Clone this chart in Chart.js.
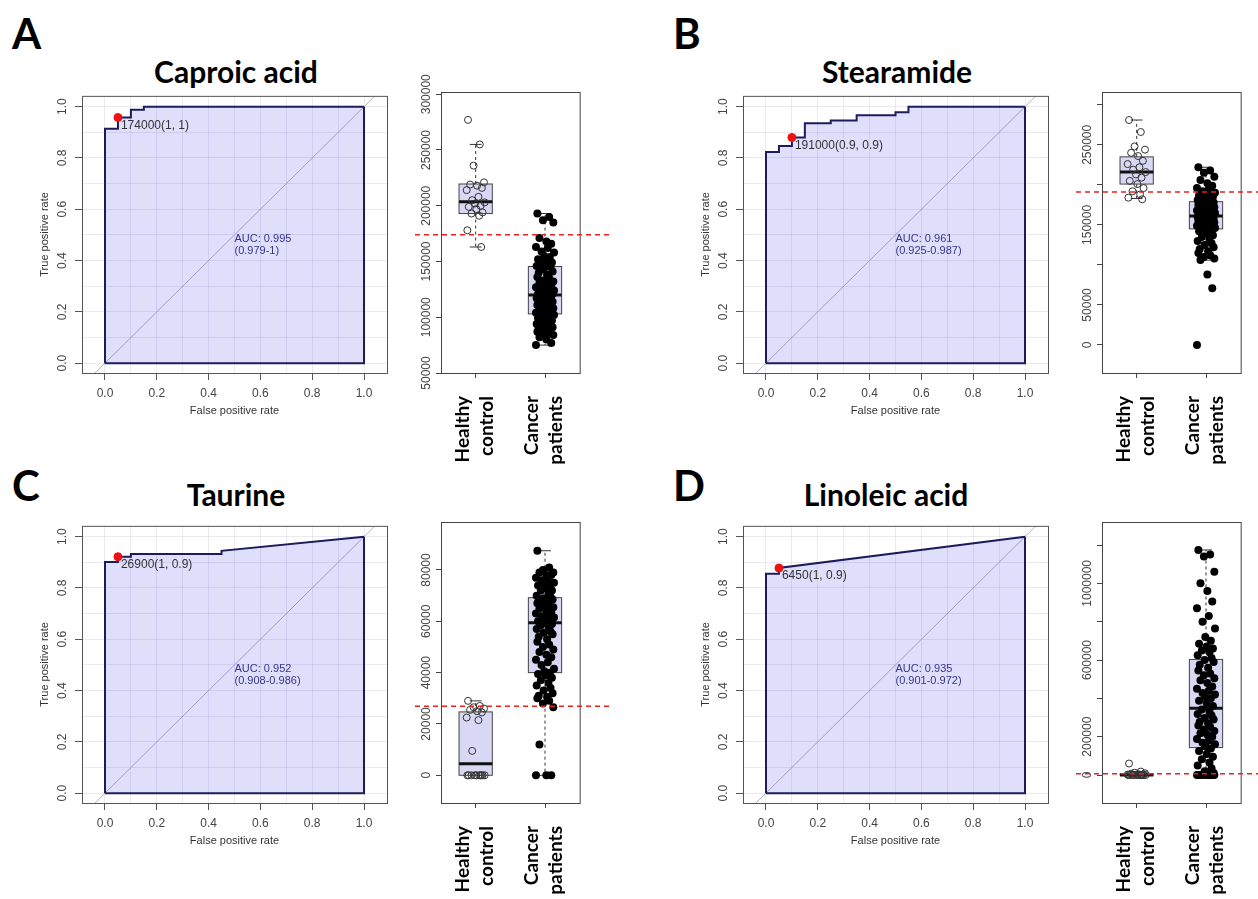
<!DOCTYPE html>
<html lang="en">
  <head>
    <meta charset="UTF-8" />
    <title>ROC curves and box plots</title>
    <script src="https://cdn.jsdelivr.net/npm/chart.js"></script>
    <style>
      body {
        margin: 0;
        width: 1258px;
        height: 899px;
        overflow: hidden;
        position: relative;
        background: #fff;
        font-family: Lato, sans-serif;
      }
      canvas {
        position: absolute;
      }
      .letter {
        position: absolute;
        font-weight: bold;
        font-size: 42px;
        line-height: 42px;
        color: #000;
      }
      .title {
        position: absolute;
        font-weight: bold;
        font-size: 30px;
        line-height: 30px;
        white-space: nowrap;
        transform: translateX(-50%);
        color: #000;
      }
    </style>
  </head>
  <body>
    <script>
      // ROC curves (false positive rate / true positive rate)
      const caproicFpr = [0, 0, 0.05, 0.05, 0.1, 0.1, 0.15, 0.15, 1];
      const caproicTpr = [0, 0.914, 0.914, 0.958, 0.958, 0.988, 0.988, 1, 1];
      const stearFpr = [0, 0, 0.05, 0.05, 0.1, 0.1, 0.15, 0.15, 0.25, 0.25, 0.35, 0.35, 0.5, 0.5, 0.55, 0.55, 1];
      const stearTpr = [0, 0.823, 0.823, 0.847, 0.847, 0.88, 0.88, 0.935, 0.935, 0.946, 0.946, 0.967, 0.967, 0.978, 0.978, 1, 1];
      const taurFpr = [0, 0, 0.05, 0.05, 0.1, 0.1, 0.45, 0.45, 1];
      const taurTpr = [0, 0.901, 0.901, 0.922, 0.922, 0.933, 0.933, 0.945, 1];
      const linFpr = [0, 0, 0.05, 0.05, 1];
      const linTpr = [0, 0.856, 0.856, 0.878, 1];

      // best cut-off points
      const caproicBest = [0.05, 0.958];
      const stearBest = [0.1, 0.88];
      const taurBest = [0.05, 0.922];
      const linBest = [0.05, 0.878];
      const bestLabels = ["174000(1, 1)", "191000(0.9, 0.9)", "26900(1, 0.9)", "6450(1, 0.9)"];
      const cutoffs = [174000, 191000, 26900, 6450];
      const aucLabels = [
        ["AUC: 0.995", "(0.979-1)"],
        ["AUC: 0.961", "(0.925-0.987)"],
        ["AUC: 0.952", "(0.908-0.986)"],
        ["AUC: 0.935", "(0.901-0.972)"],
      ];

      const rocTicks = [0, 0.1, 0.2, 0.3, 0.4, 0.5, 0.6, 0.7, 0.8, 0.9, 1];
      const rocTickLabels = ["0.0", "", "0.2", "", "0.4", "", "0.6", "", "0.8", "", "1.0"];

      // box plots: healthy control vs cancer patients
      const groupLabels = [["Healthy", "control"], ["Cancer", "patients"]];

      const caproicHealthy = [277e3, 255e3, 236e3, 221e3, 219e3, 218e3, 216e3, 214e3, 208e3, 205e3, 203e3, 202e3, 200e3, 199e3, 197e3, 194e3, 193e3, 191e3, 178e3, 163e3];
      const caproicCancer = [
        193e3, 190e3, 187e3, 185e3, 171e3, 168e3, 166e3, 163e3, 162e3, 159e3, 158e3, 155e3, 154e3, 152e3, 150e3, 149e3, 148e3, 147e3, 146e3, 145e3,
        143e3, 141e3, 140e3, 138e3, 136e3, 135e3, 133e3, 132e3, 131e3, 129e3, 128e3, 127e3, 126e3, 125e3, 124e3, 123e3, 122e3, 121e3, 120e3, 120e3,
        119e3, 118e3, 117e3, 116e3, 115e3, 114e3, 113e3, 112e3, 111e3, 110e3, 109e3, 108e3, 107e3, 106e3, 105e3, 104e3, 104e3, 103e3, 102e3, 101e3,
        100e3, 99e3, 98e3, 97e3, 96e3, 95e3, 94e3, 93e3, 92e3, 91e3, 90e3, 88e3, 87e3, 86e3, 85e3, 84e3, 82e3, 80e3, 77e3, 75e3,
      ];
      const caproicBoxes = [[163e3, 193e3, 203.5e3, 219.5e3, 255e3], [75e3, 103e3, 120e3, 145.5e3, 193e3]];
      const caproicTicks = [50000, 100000, 150000, 200000, 250000, 300000];
      const caproicTickLabels = ["50000", "100000", "150000", "200000", "250000", "300000"];

      const stearHealthy = [281e3, 266e3, 248e3, 244e3, 240e3, 236e3, 230e3, 226e3, 222e3, 219e3, 216e3, 213e3, 209e3, 205e3, 201e3, 196e3, 192e3, 188e3, 184e3, 182e3];
      const stearCancer = [
        222e3, 218e3, 215e3, 210e3, 206e3, 202e3, 199e3, 196e3, 194e3, 192e3, 190e3, 189e3, 188e3, 187e3, 186e3, 185e3, 184e3, 183e3, 181e3, 180e3,
        179e3, 178e3, 177e3, 176e3, 175e3, 174e3, 173e3, 172e3, 171e3, 170e3, 169e3, 168e3, 167e3, 166e3, 165e3, 164e3, 164e3, 163e3, 162e3, 162e3,
        161e3, 160e3, 160e3, 159e3, 158e3, 158e3, 157e3, 156e3, 155e3, 155e3, 154e3, 153e3, 152e3, 151e3, 150e3, 149e3, 148e3, 147e3, 146e3, 145e3,
        144e3, 142e3, 140e3, 137e3, 135e3, 132e3, 130e3, 127e3, 125e3, 122e3, 120e3, 117e3, 115e3, 112e3, 110e3, 108e3, 106e3, 88e3, 71e3, 0,
      ];
      const stearBoxes = [[183e3, 201e3, 216e3, 235e3, 281e3], [106e3, 145e3, 161e3, 179e3, 222e3]];
      const stearTicks = [0, 50000, 100000, 150000, 200000, 250000, 300000];
      const stearTickLabels = ["0", "50000", "", "150000", "", "250000", ""];

      const taurHealthy = [29000, 27000, 26500, 26000, 25500, 25000, 24500, 22500, 21500, 9500, 0, 0, 0, 0, 0, 0, 0, 0, 0, 0];
      const taurCancer = [
        87500, 81000, 80000, 79000, 79000, 78000, 78000, 77000, 76000, 76000, 75000, 75000, 74000, 74000, 73000, 72000, 72000, 71000, 70000, 69500,
        69000, 68500, 68000, 67500, 67000, 66500, 66000, 65500, 65000, 64000, 63500, 63000, 62500, 62000, 61500, 61000, 60500, 60000, 59500, 59000,
        58500, 58000, 57000, 56000, 55500, 55000, 54000, 53000, 52000, 51000, 50000, 49000, 48000, 47000, 46000, 45000, 44000, 43000, 41500, 40500,
        40000, 39500, 39000, 38000, 37000, 36000, 35000, 34000, 33000, 32000, 31000, 30500, 30000, 29000, 28000, 26500, 12000, 0, 0, 0,
      ];
      const taurBoxes = [[0, 0, 4500, 24700, 29000], [0, 40000, 59400, 69200, 87500]];
      const taurTicks = [0, 20000, 40000, 60000, 80000];
      const taurTickLabels = ["0", "20000", "40000", "60000", "80000"];

      const linHealthy = [60000, 18000, 12000, 9000, 7000, 5000, 3000, 2000, 0, 0, 0, 0, 0, 0, 0, 0, 0, 0, 0, 0];
      const linCancer = [
        1174e3, 1150e3, 1140e3, 1060e3, 1000e3, 960e3, 905e3, 870e3, 830e3, 800e3, 765e3, 720e3, 700e3, 685e3, 670e3, 660e3, 650e3, 640e3, 625e3, 610e3,
        600e3, 590e3, 575e3, 560e3, 545e3, 530e3, 520e3, 505e3, 495e3, 480e3, 462e3, 450e3, 440e3, 428e3, 420e3, 408e3, 400e3, 388e3, 375e3, 360e3,
        342e3, 330e3, 318e3, 310e3, 298e3, 290e3, 278e3, 270e3, 258e3, 250e3, 238e3, 230e3, 218e3, 210e3, 200e3, 188e3, 180e3, 168e3, 160e3, 150e3,
        138e3, 125e3, 110e3, 95e3, 82e3, 65e3, 50e3, 35e3, 20e3, 10e3, 0, 0, 0, 0, 0, 0, 0, 0, 0, 0,
      ];
      const linBoxes = [[0, 0, 0, 6000, 18000], [0, 143e3, 348e3, 603e3, 1174e3]];
      const linTicks = [0, 200000, 400000, 600000, 800000, 1000000, 1200000];
      const linTickLabels = ["0", "200000", "", "600000", "", "1000000", ""];

      // horizontal spread of the points around each group
      const jitter = [-0.11, 0.06, -0.03, 0.12, -0.08, 0.02, 0.09, -0.13, 0.04, -0.05, 0.13, -0.01, 0.07, -0.1, 0.01, 0.1, -0.06, 0.05, -0.12, 0.08, -0.02, 0.11, -0.09, 0.03];

      const panels = [
        { letter: "A", title: "Caproic acid", ox: 0, oy: 0, letterTop: 12, titleX: 236, titleTop: 56,
          fpr: caproicFpr, tpr: caproicTpr, best: caproicBest, healthy: caproicHealthy, cancer: caproicCancer,
          boxes: caproicBoxes, ticks: caproicTicks, tickLabels: caproicTickLabels, yMin: 50000, yMax: 302000 },
        { letter: "B", title: "Stearamide", ox: 661, oy: 0, letterTop: 12, titleX: 236, titleTop: 56,
          fpr: stearFpr, tpr: stearTpr, best: stearBest, healthy: stearHealthy, cancer: stearCancer,
          boxes: stearBoxes, ticks: stearTicks, tickLabels: stearTickLabels, yMin: -35000, yMax: 316000 },
        { letter: "C", title: "Taurine", ox: 0, oy: 430, letterTop: 34, titleX: 236, titleTop: 49,
          fpr: taurFpr, tpr: taurTpr, best: taurBest, healthy: taurHealthy, cancer: taurCancer,
          boxes: taurBoxes, ticks: taurTicks, tickLabels: taurTickLabels, yMin: -10800, yMax: 98700 },
        { letter: "D", title: "Linoleic acid", ox: 661, oy: 430, letterTop: 34, titleX: 225, titleTop: 49,
          fpr: linFpr, tpr: linTpr, best: linBest, healthy: linHealthy, cancer: linCancer,
          boxes: linBoxes, ticks: linTicks, tickLabels: linTickLabels, yMin: -146000, yMax: 1320000 },
      ];

      const TICK_FONT = { family: "Liberation Sans", size: 12 };
      const measureCtx = document.createElement("canvas").getContext("2d");
      function widest(labels) {
        measureCtx.font = '12px "Liberation Sans"';
        return Math.max(...labels.map((t) => measureCtx.measureText(t).width));
      }

      function addCanvas(left, top, w, h) {
        const c = document.createElement("canvas");
        c.width = w;
        c.height = h;
        c.style.left = left + "px";
        c.style.top = top + "px";
        document.body.appendChild(c);
        return c;
      }

      function drawRoc(canvas, p, k) {
        const curve = p.fpr.map((x, i) => ({ x: x, y: p.tpr[i] }));
        const last = curve[curve.length - 1];
        const closing = [last, { x: last.x, y: 0 }, { x: curve[0].x, y: 0 }];
        const yMin = -0.0385, yMax = 1.0423;
        const diag = [{ x: yMin, y: yMin }, { x: yMax, y: yMax }];
        const navy = "#1c1c5c";

        const textPlugin = {
          id: "rocText",
          afterDatasetsDraw(chart) {
            const { ctx, chartArea: a, scales: { x, y } } = chart;
            ctx.save();
            ctx.strokeStyle = "#555";
            ctx.lineWidth = 1;
            ctx.strokeRect(a.left + 0.5, a.top + 0.5, a.right - a.left, a.bottom - a.top);
            ctx.textBaseline = "middle";
            ctx.textAlign = "left";
            ctx.font = '12px "Liberation Sans"';
            ctx.fillStyle = "#333";
            ctx.fillText(bestLabels[k], x.getPixelForValue(p.best[0]) + 3, y.getPixelForValue(p.best[1]) + 8);
            ctx.font = '11px "Liberation Sans"';
            ctx.fillStyle = "#35358a";
            ctx.fillText(aucLabels[k][0], x.getPixelForValue(0.5), y.getPixelForValue(0.483));
            ctx.fillText(aucLabels[k][1], x.getPixelForValue(0.5), y.getPixelForValue(0.437));
            ctx.restore();
          },
        };

        const tickColor = (c) => (rocTickLabels[c.index] ? "#555" : "rgba(0,0,0,0)");
        const rocPad = 19 - 7 - widest(rocTickLabels) / 2;

        new Chart(canvas, {
          type: "line",
          data: {
            datasets: [
              { data: [{ x: p.best[0], y: p.best[1] }], showLine: false, pointRadius: 4, pointBackgroundColor: "#ee1111", pointBorderColor: "#ee1111" },
              { data: closing, borderColor: navy, borderWidth: 2, pointRadius: 0, fill: false },
              { data: curve, borderColor: navy, borderWidth: 2, pointRadius: 0, fill: "origin", backgroundColor: "rgba(40,40,235,0.15)" },
              { data: diag, borderColor: "#b2b2c4", borderWidth: 1, pointRadius: 0, fill: false },
            ],
          },
          options: {
            responsive: false,
            animation: false,
            devicePixelRatio: 1,
            events: [],
            layout: { padding: { top: 7, right: 13, left: 0, bottom: 0 }, autoPadding: false },
            plugins: { legend: { display: false }, tooltip: { enabled: false } },
            scales: {
              x: {
                type: "linear",
                min: -0.0888,
                max: 1.0888,
                afterBuildTicks: (s) => { s.ticks = rocTicks.map((v) => ({ value: v })); },
                afterFit: (s) => { s.height = 57; },
                ticks: { callback: (v, i) => rocTickLabels[i], font: TICK_FONT, color: "#444", padding: 6, maxRotation: 0, autoSkip: false },
                grid: { color: "rgba(170,170,195,0.25)", tickColor: tickColor, tickLength: 7 },
                border: { display: false },
                title: { display: true, text: "False positive rate", font: { family: "Liberation Sans", size: 11 }, color: "#333", padding: { top: 0, bottom: 12 } },
              },
              y: {
                type: "linear",
                min: yMin,
                max: yMax,
                afterBuildTicks: (s) => { s.ticks = rocTicks.map((v) => ({ value: v })); },
                afterFit: (s) => { s.width = 82; },
                ticks: { callback: (v, i) => rocTickLabels[i], font: TICK_FONT, color: "#444", minRotation: 90, maxRotation: 90, crossAlign: "center", padding: rocPad, autoSkip: false },
                grid: { color: "rgba(170,170,195,0.25)", tickColor: tickColor, tickLength: 7 },
                border: { display: false },
                title: { display: true, text: "True positive rate", font: { family: "Liberation Sans", size: 11 }, color: "#333", padding: { top: 38, bottom: 0 } },
              },
            },
          },
          plugins: [textPlugin],
        });
      }

      function drawBox(canvas, p, k) {
        const points = (vals, c) => vals.map((v, i) => ({ x: c + jitter[i % jitter.length], y: v }));

        const boxPlugin = {
          id: "boxes",
          beforeDatasetsDraw(chart) {
            const { ctx, scales: { x, y } } = chart;
            ctx.save();
            const seg = (x1, y1, x2, y2) => { ctx.beginPath(); ctx.moveTo(x1, y1); ctx.lineTo(x2, y2); ctx.stroke(); };
            p.boxes.forEach((s, i) => {
              const c = i + 1;
              const l = x.getPixelForValue(c - 0.24), r = x.getPixelForValue(c + 0.24);
              const cl = x.getPixelForValue(c - 0.085), cr = x.getPixelForValue(c + 0.085);
              const cx = x.getPixelForValue(c);
              const [lo, q1, med, q3, hi] = s.map((v) => y.getPixelForValue(v));
              ctx.strokeStyle = "#333";
              ctx.lineWidth = 1;
              ctx.setLineDash([3, 3]);
              seg(cx, q3, cx, hi);
              seg(cx, q1, cx, lo);
              ctx.setLineDash([]);
              seg(cl, hi, cr, hi);
              seg(cl, lo, cr, lo);
              ctx.fillStyle = "#d8d8f4";
              ctx.fillRect(l, q3, r - l, q1 - q3);
              ctx.strokeStyle = "#444";
              ctx.strokeRect(l, q3, r - l, q1 - q3);
              ctx.strokeStyle = "#111";
              ctx.lineWidth = 3;
              seg(l, med, r, med);
            });
            ctx.restore();
          },
          afterDatasetsDraw(chart) {
            const { ctx, chartArea: a, scales: { y } } = chart;
            ctx.save();
            ctx.strokeStyle = "#444";
            ctx.lineWidth = 1;
            ctx.strokeRect(a.left + 0.5, a.top + 0.5, a.right - a.left, a.bottom - a.top);
            const yc = y.getPixelForValue(cutoffs[k]);
            ctx.strokeStyle = "#e52222";
            ctx.lineWidth = 1.4;
            ctx.setLineDash([5, 4]);
            ctx.beginPath();
            ctx.moveTo(a.left - 26, yc);
            ctx.lineTo(a.right + 31, yc);
            ctx.stroke();
            ctx.restore();
          },
        };

        const boxPad = 14 - 5 - widest(p.tickLabels) / 2;

        new Chart(canvas, {
          type: "scatter",
          data: {
            datasets: [
              { data: points(p.healthy, 1), pointRadius: 3.5, pointBorderWidth: 1, pointBorderColor: "#333", pointBackgroundColor: "rgba(0,0,0,0)" },
              { data: points(p.cancer, 2), pointRadius: 4, pointBorderWidth: 0, pointBorderColor: "#000", pointBackgroundColor: "#000" },
            ],
          },
          options: {
            responsive: false,
            animation: false,
            devicePixelRatio: 1,
            events: [],
            layout: { padding: { top: 37, right: 38, left: 0, bottom: 0 }, autoPadding: false },
            plugins: { legend: { display: false }, tooltip: { enabled: false } },
            scales: {
              x: {
                type: "linear",
                min: 0.5,
                max: 2.5,
                afterBuildTicks: (s) => { s.ticks = [{ value: 1 }, { value: 2 }]; },
                afterFit: (s) => { s.height = 92; },
                ticks: {
                  callback: (v, i) => groupLabels[i],
                  font: { family: "Lato", size: 19, weight: "bold", lineHeight: 1.25 },
                  color: "#000",
                  minRotation: 90,
                  maxRotation: 90,
                  autoSkip: false,
                  labelOffset: -13,
                  padding: 18,
                },
                grid: { drawOnChartArea: false, tickLength: 5, tickColor: "#444" },
                border: { display: false },
              },
              y: {
                type: "linear",
                min: p.yMin,
                max: p.yMax,
                afterBuildTicks: (s) => { s.ticks = p.ticks.map((v) => ({ value: v })); },
                afterFit: (s) => { s.width = 41; },
                ticks: { callback: (v, i) => p.tickLabels[i], font: TICK_FONT, color: "#444", minRotation: 90, maxRotation: 90, crossAlign: "center", padding: boxPad, autoSkip: false },
                grid: { drawOnChartArea: false, tickLength: 5, tickColor: "#444" },
                border: { display: false },
              },
            },
          },
          plugins: [boxPlugin],
        });
      }

      panels.forEach((p, k) => {
        const letter = document.createElement("div");
        letter.className = "letter";
        letter.textContent = p.letter;
        letter.style.left = p.ox + 12 + "px";
        letter.style.top = p.oy + p.letterTop + "px";
        document.body.appendChild(letter);

        const title = document.createElement("div");
        title.className = "title";
        title.textContent = p.title;
        title.style.left = p.ox + p.titleX + "px";
        title.style.top = p.oy + p.titleTop + "px";
        document.body.appendChild(title);

        drawRoc(addCanvas(p.ox, p.oy + 85, 400, 345), p, k);
        drawBox(addCanvas(p.ox + 400, p.oy + 55, 220, 410), p, k);
      });
    </script>
  </body>
</html>
